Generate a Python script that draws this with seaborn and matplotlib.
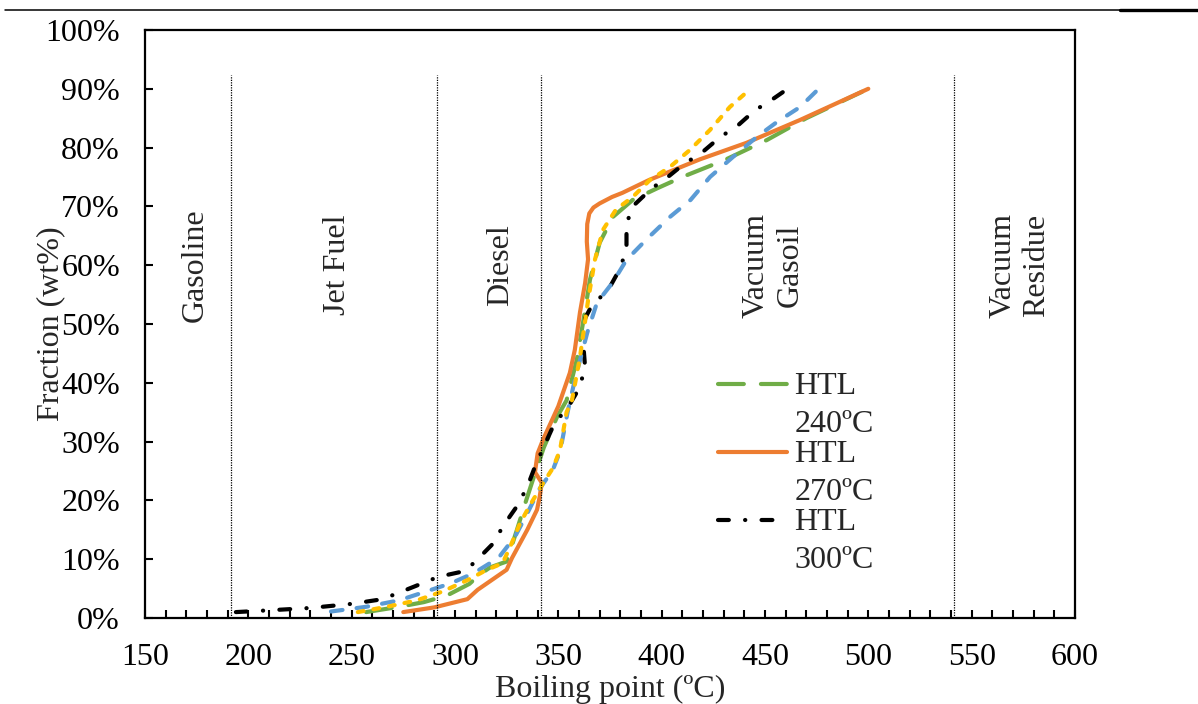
import numpy as np
import matplotlib
matplotlib.use("Agg")
import matplotlib.pyplot as plt
import matplotlib.ticker as mticker
from matplotlib.lines import Line2D
from matplotlib.legend_handler import HandlerLine2D
import seaborn as sns

# Boiling point curves (x in degC, y in wt%)
htl240_x = [257, 273, 285, 296, 307, 312, 317, 325, 330, 334, 337.7, 343, 349.4, 354, 359, 363, 365.3,
            370, 376.4, 386, 398, 410, 430.6, 451, 470, 497]
htl240_y = [1.0, 1.9, 2.7, 3.8, 5.8, 7.4, 8.6, 9.6, 15.0, 19.5, 23.5, 29, 34.2, 37, 44, 52.4, 57.5,
            63.8, 68.2, 71.1, 73.1, 75, 77.9, 81.3, 85, 89.5]

htl270_x = [275, 290, 306, 311, 318, 325, 327.6, 335, 339.7, 341, 342, 338.7, 340, 342.6, 350, 355.6,
            358, 360.5, 363, 364.4, 363.8, 364, 365, 367, 370, 376, 381, 394, 418.5, 441, 467, 500]
htl270_y = [1.0, 1.8, 3.2, 4.8, 6.5, 8.2, 10.2, 15, 18.4, 20.6, 23, 24.8, 28, 30.3, 36, 41.7,
            45.6, 52, 57, 61, 64, 67, 68.8, 69.8, 70.5, 71.6, 72.3, 74.5, 78, 80.8, 84.7, 90]

htl300_x = [194, 210, 230, 250, 265, 280, 292, 305, 311, 318, 324, 330, 335, 339, 343.5, 348, 355,
            360, 363, 362, 363, 366, 374.5, 380, 383, 383, 386, 395, 403, 410, 420, 428, 437, 445,
            454, 461]
htl300_y = [1.0, 1.3, 1.7, 2.4, 3.2, 5.3, 7.0, 8.0, 10.0, 12.5, 16.0, 19.0, 22.3, 26, 29.5, 33, 36,
            39, 42.5, 47, 51, 53, 56, 59.5, 62.8, 67, 70, 73, 75, 77, 79.3, 81.7, 83.8, 86.3,
            88.3, 90]

blue_x = [240, 257, 273, 286, 298, 309, 321, 329, 335, 341, 347.4, 351, 354.5, 358, 364, 368.7,
          376.4, 383, 393, 404, 414, 423.4, 434.5, 446, 456, 467, 476]
blue_y = [1.1, 1.9, 3.0, 4.5, 5.9, 7.6, 10.2, 13.8, 17.8, 22.0, 25.2, 28.5, 35, 40.5, 48.5, 53.6,
          57.1, 60.9, 64.5, 68.2, 71.1, 75, 78.4, 81.8, 84.4, 86.9, 90]

yellow_x = [253, 267, 281.6, 294, 305.8, 315.5, 323, 326.6, 331.5, 336, 342.6, 347.4, 350.8, 354,
            356.6, 360.5, 364.4, 367.7, 371.6, 378, 386, 394.4, 404, 413.7, 423.4, 433, 443]
yellow_y = [1.0, 1.9, 3.0, 4.5, 6.4, 8.2, 9.3, 12, 16.1, 19, 22.9, 25.5, 28.5, 35,
            37, 44.4, 54, 60.9, 66, 69.5, 71.6, 74.5, 76.7, 79.6, 83, 86.9, 90]

# fraction boundaries and their names
cut_points = [191.5, 291.3, 341.6, 541.4]
region_names = ["Gasoline", "Jet Fuel", "Diesel", "Vacuum\nGasoil", "Vacuum\nResidue"]
region_x = [174.5, 243, 322, 454, 573.5]

sns.set_theme(style="ticks")
plt.rcParams['font.family'] = ['Liberation Serif', 'DejaVu Serif']

fig = plt.figure(figsize=(11.98, 7.04), dpi=100)
ax = fig.add_axes([0.121, 0.1222, 0.7763, 0.8352])

series = [
    ("HTL\n240ºC", htl240_x, htl240_y, "#70AD47", (0, (6.2, 4.1))),
    ("HTL\n270ºC", htl270_x, htl270_y, "#ED7D31", "-"),
    ("HTL\n300ºC", htl300_x, htl300_y, "#000000", (0, (2.6, 3.9, 0.05, 3.9))),
    ("_blue", blue_x, blue_y, "#5B9BD5", (0, (2.8, 3.4))),
    ("_yellow", yellow_x, yellow_y, "#FFC000", (0, (1.4, 2.4))),
]
for label, xs, ys, color, ls in series:
    sns.lineplot(x=xs, y=ys, ax=ax, color=color, linewidth=3, linestyle=ls, sort=False,
                 estimator=None, label=label, dash_capstyle="round", solid_capstyle="round")

ax.vlines(cut_points, 0, 92.3, colors="black", linestyles=(0, (1, 1)), linewidth=0.9)
for name, xpos in zip(region_names, region_x):
    ax.text(xpos, 60, name, rotation=90, ha="center", va="center", fontsize=23)

ax.set_xlim(150, 600)
ax.set_ylim(0, 100)
ax.xaxis.set_major_locator(mticker.MultipleLocator(50))
ax.xaxis.set_minor_locator(mticker.MultipleLocator(10))
ax.yaxis.set_major_locator(mticker.MultipleLocator(10))
ax.yaxis.set_major_formatter(mticker.PercentFormatter(decimals=0))
ax.tick_params(axis="both", which="both", direction="in", length=6, width=1.5, pad=18,
               labelsize=23, colors="black")
for sp in ax.spines.values():
    sp.set_visible(True)
    sp.set_linewidth(1.6)
    sp.set_color("black")

ax.set_xlabel("Boiling point (ºC)", fontsize=23, labelpad=2)
ax.set_ylabel("Fraction (wt%)", fontsize=23)
ax.yaxis.set_label_coords(-0.086, 0.5)


class FirstLineHandler(HandlerLine2D):
    # put the sample line next to the first text line of a two-line label
    def create_artists(self, legend, orig_handle, xdescent, ydescent, width, height, fontsize, trans):
        arts = super().create_artists(legend, orig_handle, xdescent, ydescent, width, height,
                                      fontsize, trans)
        for a in arts:
            a.set_ydata(np.asarray(a.get_ydata()) + 0.66 * fontsize)
        return arts


handles = ax.lines[:3]
leg = ax.legend(handles=handles, labels=[s[0] for s in series[:3]], loc="upper left",
                bbox_to_anchor=(0.616, 0.418), frameon=False, fontsize=23, borderpad=0,
                borderaxespad=0, handlelength=2.15, handletextpad=0.25, labelspacing=0.04,
                handler_map={Line2D: FirstLineHandler()})
for t in leg.get_texts():
    t.set_linespacing(1.4)

fig.add_artist(Line2D([0.004, 0.935], [0.986, 0.986], transform=fig.transFigure, color="black", lw=1.1))
fig.add_artist(Line2D([0.935, 1.0], [0.986, 0.986], transform=fig.transFigure, color="black", lw=2.4))

fig.savefig("out.png", dpi=100)
